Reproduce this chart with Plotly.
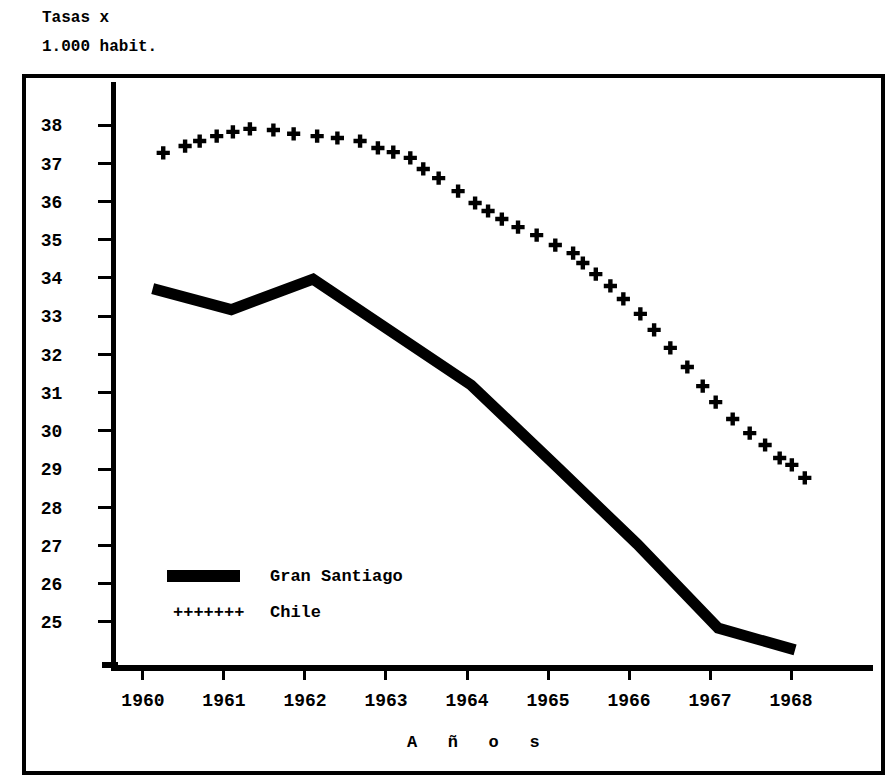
import plotly.graph_objects as go

# ---- data ----
years_tick = [1960, 1961, 1962, 1963, 1964, 1965, 1966, 1967, 1968]
year_labels = ["1960", "1961", "1962", "1963", "1964", "1965", "1966", "1967", "1968"]
rate_ticks = [25, 26, 27, 28, 29, 30, 31, 32, 33, 34, 35, 36, 37, 38]

santiago_x = [1960.12, 1961.09, 1962.10, 1963.10, 1964.05, 1965.10, 1966.10, 1967.10, 1968.05]
santiago_y = [33.72, 33.17, 33.97, 32.56, 31.20, 29.08, 27.04, 24.84, 24.27]

chile_x = [1960.25, 1960.52, 1960.70, 1960.91, 1961.11, 1961.32, 1961.61, 1961.86,
           1962.15, 1962.40, 1962.68, 1962.90, 1963.09, 1963.30, 1963.46, 1963.65,
           1963.89, 1964.10, 1964.26, 1964.43, 1964.63, 1964.86, 1965.09, 1965.31,
           1965.43, 1965.59, 1965.77, 1965.93, 1966.14, 1966.31, 1966.51, 1966.72,
           1966.91, 1967.07, 1967.28, 1967.49, 1967.68, 1967.86, 1968.01, 1968.17]
chile_y = [37.27, 37.45, 37.58, 37.71, 37.82, 37.90, 37.87, 37.77,
           37.71, 37.66, 37.58, 37.40, 37.29, 37.14, 36.85, 36.61,
           36.27, 35.96, 35.75, 35.54, 35.33, 35.12, 34.86, 34.65,
           34.39, 34.10, 33.79, 33.45, 33.06, 32.64, 32.17, 31.67,
           31.17, 30.75, 30.31, 29.94, 29.63, 29.29, 29.11, 28.77]

FONT = "Liberation Mono"

fig = go.Figure()
fig.add_trace(go.Scatter(
    x=santiago_x, y=santiago_y, mode="lines", name="Gran Santiago",
    line=dict(color="black", width=11), showlegend=False))
fig.add_trace(go.Scatter(
    x=chile_x, y=chile_y, mode="markers", name="Chile",
    marker=dict(symbol="cross", size=11, color="black"), showlegend=False))

# geometry helpers (pixel -> paper)
L, R, T, B = 116, 873, 82, 665
W, H = 886, 781
def px(x): return (x - L) / (R - L)
def py(y): return (B - y) / (B - T)

shapes = [
    # outer frame
    dict(type="rect", xref="paper", yref="paper", x0=px(24), x1=px(883), y0=py(773), y1=py(76),
         line=dict(color="black", width=4)),
    # x-axis extension to the left of the y axis
    dict(type="line", xref="paper", yref="paper", x0=px(102), x1=px(118), y0=0, y1=0,
         line=dict(color="black", width=6)),
    # legend sample for Gran Santiago
    dict(type="line", xref="paper", yref="paper", x0=px(167), x1=px(240), y0=py(576), y1=py(576),
         line=dict(color="black", width=12)),
]

NB = "\u00a0\u00a0\u00a0"
annotations = [
    dict(text="Tasas x", xref="paper", yref="paper", x=px(40), y=py(18), xanchor="left", yanchor="middle",
         showarrow=False, font=dict(family=FONT, size=16, color="black", weight=700)),
    dict(text="1.000 habit.", xref="paper", yref="paper", x=px(40), y=py(47), xanchor="left", yanchor="middle",
         showarrow=False, font=dict(family=FONT, size=16, color="black", weight=700)),
    dict(text="A" + NB + "ñ" + NB + "o" + NB + "s",
         xref="paper", yref="paper", x=px(473), y=py(742), xanchor="center", yanchor="middle",
         showarrow=False, font=dict(family=FONT, size=17, color="black", weight=700)),
    dict(text="Gran Santiago", xref="paper", yref="paper", x=px(268), y=py(576), xanchor="left", yanchor="middle",
         showarrow=False, font=dict(family=FONT, size=17, color="black", weight=700)),
    dict(text="Chile", xref="paper", yref="paper", x=px(268), y=py(612), xanchor="left", yanchor="middle",
         showarrow=False, font=dict(family=FONT, size=17, color="black", weight=700)),
    dict(text="+++++++", xref="paper", yref="paper", x=px(208), y=py(612), xanchor="center", yanchor="middle",
         showarrow=False, font=dict(family=FONT, size=17, color="black", weight=700)),
]

fig.update_layout(
    width=W, height=H,
    margin=dict(l=L, r=W - R, t=T, b=H - B, pad=0),
    paper_bgcolor="white", plot_bgcolor="white",
    shapes=shapes, annotations=annotations,
    font=dict(family=FONT, color="black"),
)
fig.update_xaxes(
    range=[1959.667, 1969.012], tickvals=years_tick, ticktext=year_labels,
    showgrid=False, zeroline=False, showline=True, linecolor="black", linewidth=6,
    ticks="outside", ticklen=9, tickwidth=3, tickcolor="black",
    ticklabelstandoff=4,
    tickfont=dict(family=FONT, size=18, color="black", weight=700),
)
fig.update_yaxes(
    range=[23.875, 39.125], tickvals=rate_ticks, ticktext=[str(v) for v in rate_ticks],
    showgrid=False, zeroline=False, showline=True, linecolor="black", linewidth=5,
    ticks="outside", ticklen=13, tickwidth=3, tickcolor="black",
    ticklabelstandoff=32,
    tickfont=dict(family=FONT, size=18, color="black", weight=700),
)

fig.write_html("out.html", config={"displayModeBar": False},
               post_script="document.body.style.margin='0px';")
